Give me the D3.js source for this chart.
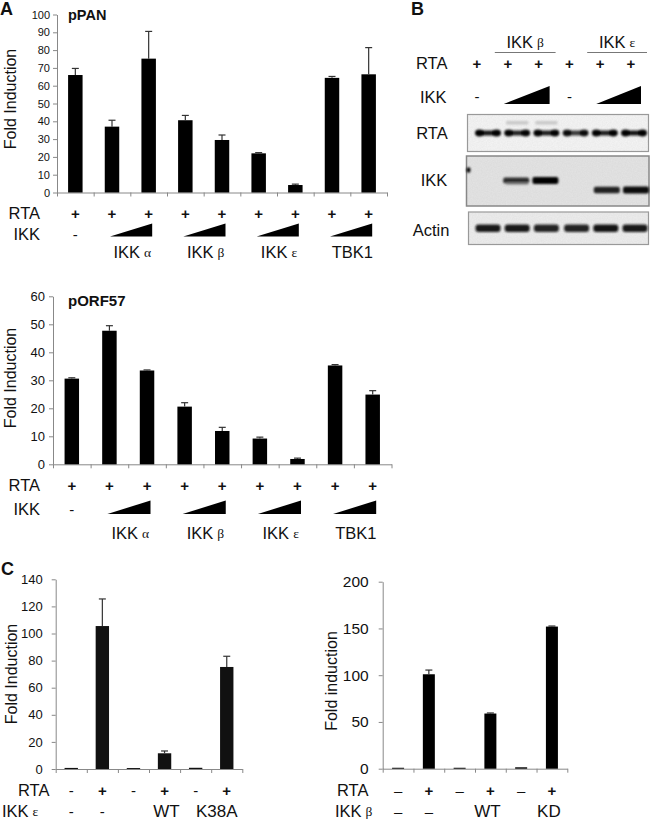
<!DOCTYPE html>
<html><head><meta charset="utf-8">
<script src="https://cdn.jsdelivr.net/npm/d3@7"></script>
<style>body{margin:0;background:#fff}svg{display:block}</style>
</head><body><svg id="c" width="650" height="819"></svg>
<script>
// ---------------- DATA ----------------
const catsA = ["RTA","RTA+IKKa lo","RTA+IKKa hi","RTA+IKKb lo","RTA+IKKb hi","RTA+IKKe lo","RTA+IKKe hi","RTA+TBK1 lo","RTA+TBK1 hi"];
const rtaSignsA = ["+","+","+","+","+","+","+","+","+"];
const ikkSignsA = ["-","","","","","","","",""];
const groupsA = [
  {name:"IKK", greek:"α", first:1, last:2},
  {name:"IKK", greek:"β", first:3, last:4},
  {name:"IKK", greek:"ε", first:5, last:6},
  {name:"TBK1", greek:"", first:7, last:8}
];
const panValues = [66, 37, 75.2, 40.6, 29.5, 22, 4.2, 64.4, 66.4];
const panErrors = [3.7, 3.6, 15.3, 2.7, 2.8, 0.4, 0.5, 0.8, 15];
const panTicks = [0,10,20,30,40,50,60,70,80,90,100];
const orfValues = [30.6, 47.7, 33.5, 20.6, 11.9, 9.2, 1.9, 35.3, 24.9];
const orfErrors = [0.3, 1.8, 0.2, 1.4, 1.3, 0.5, 0.3, 0.3, 1.4];
const orfTicks = [0,10,20,30,40,50,60];

const catsC = ["none","RTA","IKK","RTA+IKK","IKK mut","RTA+IKK mut"];
const rtaSignsCL = ["-","+","-","+","-","+"];
const ikkSignsCL = ["-","-","","WT","","K38A"];
const cLeftValues = [0.8, 105.5, 0.7, 11.6, 0.9, 75.3];
const cLeftErrors = [0, 20, 0, 1.7, 0, 7.9];
const cLeftTicks = [0,20,40,60,80,100,120,140];
const rtaSignsCR = ["\u2013","+","\u2013","+","\u2013","+"];
const ikkSignsCR = ["\u2013","\u2013","","WT","","KD"];
const cRightValues = [1, 101, 1, 59, 1.5, 152];
const cRightErrors = [0, 4.5, 0, 0.6, 0, 0.6];
const cRightTicks = [0,50,100,150,200];

const blotLanes = ["1","2","3","4","5","6"];
const rtaSignsB = ["+","+","+","+","+","+"];
const ikkSignsB = ["-","","","-","",""];
const groupsB = [{name:"IKK", greek:"β", first:1, last:2},{name:"IKK", greek:"ε", first:4, last:5}];
const rtaBand = [0.95, 0.9, 0.92, 0.8, 0.92, 0.97];
const ikkBandKind = ["", "β", "β", "", "ε", "ε"];
const ikkBand = [0, 0.8, 1, 0, 0.85, 0.95];
const actinBand = [0.95, 0.95, 0.9, 0.9, 0.97, 0.95];

// ---------------- DRAW ----------------
const SANS = "'Liberation Sans', Arial, Helvetica, sans-serif";
const SERIF = "'Liberation Serif', 'Times New Roman', serif";
const svg = d3.select("#c");
svg.append("rect").attr("width",650).attr("height",819).attr("fill","#fff");
const defs = svg.append("defs");
defs.append("filter").attr("id","blur").attr("x","-20%").attr("y","-50%").attr("width","140%").attr("height","200%")
  .append("feGaussianBlur").attr("stdDeviation",0.8);
const nf = defs.append("filter").attr("id","noise").attr("x",0).attr("y",0).attr("width","100%").attr("height","100%");
nf.append("feTurbulence").attr("type","fractalNoise").attr("baseFrequency",0.8).attr("numOctaves",2).attr("seed",3);
nf.append("feColorMatrix").attr("type","matrix").attr("values","0 0 0 0 0.4  0 0 0 0 0.4  0 0 0 0 0.4  0 0 0 0.35 -0.05");

function txt(x, y, s, size, opts={}) {
  return svg.append("text").attr("x",x).attr("y",y).text(s)
    .attr("font-family", opts.family || SANS).attr("font-size", size)
    .attr("font-weight", opts.bold ? "bold" : "normal")
    .attr("text-anchor", opts.anchor || "start")
    .attr("dominant-baseline", opts.baseline || "central")
    .attr("fill", opts.fill || "#111");
}
function sign(x, y, s, size) {
  return txt(x, y, s, size, {anchor:"middle", bold: s==="+"});
}
function greekLabel(x, y, name, greek, size, gsize, anchor="middle") {
  const t = svg.append("text").attr("x",x).attr("y",y).attr("text-anchor",anchor)
    .attr("dominant-baseline","central").attr("fill","#111");
  t.append("tspan").attr("font-family",SANS).attr("font-size",size).text(name);
  if (greek) t.append("tspan").attr("font-family",SERIF).attr("font-size",gsize).attr("dx",4).text(greek);
  return t;
}

function barPanel(o) {
  const n = o.values.length;
  const g = svg.append("g");
  const x = d3.scaleBand().domain(d3.range(n)).range([o.x0, o.x1]).paddingInner(o.pad).paddingOuter(o.pad/2);
  const xb = d3.scaleLinear().domain([0, n]).range([o.x0, o.x1]);
  const y = d3.scaleLinear().domain([0, o.max]).range([o.yb, o.yt]);
  const ya = g.append("g").attr("transform",`translate(${o.x0},0)`)
    .call(d3.axisLeft(y).tickValues(o.ticks).tickSize(4).tickSizeOuter(0).tickPadding(o.tickPad));
  ya.select(".domain").attr("stroke","#888");
  ya.selectAll(".tick line").attr("stroke","#888");
  ya.selectAll(".tick text").attr("font-family",SANS).attr("font-size",o.tickFont).attr("fill","#111");
  const xa = g.append("g").attr("transform",`translate(0,${o.yb})`)
    .call(d3.axisBottom(xb).tickValues(d3.range(n+1)).tickFormat("").tickSize(4).tickSizeOuter(0));
  xa.select(".domain").attr("stroke","#888");
  xa.selectAll(".tick line").attr("stroke","#888");
  g.selectAll("rect.bar").data(o.values).join("rect").attr("class","bar")
    .attr("x",(d,i)=>x(i)).attr("width",x.bandwidth())
    .attr("y",d=>y(d)).attr("height",d=>o.yb - y(d)).attr("fill",o.color||"#000");
  const eb = g.selectAll("g.err").data(o.values.map((v,i)=>({v, e:o.errors[i], i})).filter(d=>d.e>0)).join("g");
  eb.append("line").attr("x1",d=>x(d.i)+x.bandwidth()/2).attr("x2",d=>x(d.i)+x.bandwidth()/2)
    .attr("y1",d=>y(d.v)).attr("y2",d=>y(d.v+d.e)).attr("stroke","#333").attr("stroke-width",1.2);
  eb.append("line").attr("x1",d=>x(d.i)+x.bandwidth()/2-3.5).attr("x2",d=>x(d.i)+x.bandwidth()/2+3.5)
    .attr("y1",d=>y(d.v+d.e)).attr("y2",d=>y(d.v+d.e)).attr("stroke","#333").attr("stroke-width",1.2);
  txt(0,0,o.title,16,{anchor:"middle"}).attr("transform",`translate(${o.titleX},${o.titleY}) rotate(-90)`);
  const cx = i => x(i) + x.bandwidth()/2;
  return {x, y, cx};
}

function wedge(x1, x2, yTop, yBot) {
  svg.append("path").attr("d",`M${x1},${yBot}L${x2},${yBot}L${x2},${yTop}Z`).attr("fill","#000");
}

// ---------- Panel A: pPAN ----------
txt(0,15,"A",18,{bold:true,baseline:"auto"});
const pA = barPanel({values:panValues, errors:panErrors, ticks:panTicks, max:100,
  x0:57, x1:387, yb:192.5, yt:14.5, pad:0.605, tickPad:3, tickFont:11,
  title:"Fold Induction", titleX:10, titleY:99});
txt(68,20,"pPAN",14.5,{bold:true,baseline:"auto"});
function rowsA(p, yR, yI, yW, yL) {
  txt(40,yR,"RTA",16.5,{anchor:"end"});
  txt(40,yI,"IKK",16.5,{anchor:"end"});
  rtaSignsA.forEach((s,i)=>sign(p.cx(i),yR,s,15));
  ikkSignsA.forEach((s,i)=>{ if(s) sign(p.cx(i),yI,s,15); });
  groupsA.forEach(gr=>{
    wedge(p.cx(gr.first)-2, p.cx(gr.last)+3.5, yW[0], yW[1]);
    greekLabel((p.cx(gr.first)+p.cx(gr.last))/2+2, yL, gr.name, gr.greek, 16.5, 13.5);
  });
}
rowsA(pA, 213, 234, [223.5,236.5], 252);

// ---------- Panel A: pORF57 ----------
const pB = barPanel({values:orfValues, errors:orfErrors, ticks:orfTicks, max:60,
  x0:53, x1:391.5, yb:464.3, yt:296.3, pad:0.615, tickPad:4, tickFont:13,
  title:"Fold Induction", titleX:10, titleY:378});
txt(68,306,"pORF57",15,{bold:true,baseline:"auto"});
rowsA(pB, 485, 509, [500.5,514], 533);

// ---------- Panel C left ----------
txt(1,575,"C",18,{bold:true,baseline:"auto"});
const pCL = barPanel({values:cLeftValues, errors:cLeftErrors, ticks:cLeftTicks, max:140,
  x0:55.7, x1:242.3, yb:769, yt:579.3, pad:0.57, tickPad:9, tickFont:13, color:"#111",
  title:"Fold Induction", titleX:11, titleY:674});
txt(18,790,"RTA",16.5);
greekLabel(2,811,"IKK","ε",16.5,13.5,"start");
rtaSignsCL.forEach((s,i)=>sign(pCL.cx(i),790,s,15));
ikkSignsCL.forEach((s,i)=>{ if(s) txt(pCL.cx(i)+(s.length>3?-10:(s.length>1?2:0)),811,s,s.length>1?17:15,{anchor:"middle"}); });

// ---------- Panel C right ----------
const pCR = barPanel({values:cRightValues, errors:cRightErrors, ticks:cRightTicks, max:200,
  x0:382.7, x1:567.3, yb:768.7, yt:581.7, pad:0.61, tickPad:10, tickFont:15.5, color:"#000",
  title:"Fold induction", titleX:331, titleY:681});
txt(337,790,"RTA",16.5);
greekLabel(335,811,"IKK","β",16.5,13.5,"start");
rtaSignsCR.forEach((s,i)=>sign(pCR.cx(i),790,s,15));
ikkSignsCR.forEach((s,i)=>{ if(s) txt(pCR.cx(i)+(s.length>1?-3:0),811,s,s.length>1?17:15,{anchor:"middle"}); });

// ---------- Panel B: western blot ----------
txt(411,15,"B",18,{bold:true,baseline:"auto"});
const hx = d3.scalePoint().domain(blotLanes).range([477,631]);
const hxi = i => hx(blotLanes[i]);
txt(416,63,"RTA",16.5);
txt(420,97,"IKK",16.5);
rtaSignsB.forEach((s,i)=>sign(hxi(i),63,s,15));
ikkSignsB.forEach((s,i)=>{ if(s) sign(hxi(i),96,s,15); });
groupsB.forEach(gr=>{
  const w1 = hxi(gr.first)-4, w2 = Math.min(hxi(gr.last)+11, 641);
  wedge(w1, w2, 86, 104);
  svg.append("line").attr("x1",w1-9).attr("x2",w2+6).attr("y1",52.5).attr("y2",52.5).attr("stroke","#777").attr("stroke-width",1);
  greekLabel((w1-9+w2+6)/2, 42, gr.name, gr.greek, 16.5, 13.5);
});
txt(432,133,"RTA",16.5,{anchor:"middle"});
txt(434,180,"IKK",16.5,{anchor:"middle"});
txt(431,230,"Actin",16.5,{anchor:"middle"});

const lx = d3.scalePoint().domain(blotLanes).range([488,634]);
function blotBox(x, y, w, h, fill, stroke, sw) {
  svg.append("rect").attr("x",x).attr("y",y).attr("width",w).attr("height",h).attr("fill",fill);
  svg.append("rect").attr("x",x).attr("y",y).attr("width",w).attr("height",h).attr("filter","url(#noise)").attr("opacity",0.5);
  svg.append("rect").attr("x",x).attr("y",y).attr("width",w).attr("height",h).attr("fill","none").attr("stroke",stroke).attr("stroke-width",sw);
}
blotBox(467.5,114.5,181,37,"#f4f4f4","#999",1.2);
const gR = svg.append("g").attr("filter","url(#blur)");
[1,2].forEach(i=>gR.append("rect").attr("x",lx(blotLanes[i])-11).attr("y",121).attr("width",22).attr("height",3.5).attr("fill","#c8c8c8"));
rtaBand.forEach((v,i)=>{
  const c = lx(blotLanes[i]);
  gR.append("rect").attr("x",c-12.5).attr("y",130.5).attr("width",25).attr("height",5).attr("rx",2.5).attr("fill","#111").attr("opacity",v);
  gR.append("ellipse").attr("cx",c-8.5).attr("cy",133).attr("rx",4.5).attr("ry",3.4).attr("fill","#000").attr("opacity",v);
  gR.append("ellipse").attr("cx",c+8.5).attr("cy",133).attr("rx",4.5).attr("ry",3.4).attr("fill","#000").attr("opacity",v);
});
blotBox(466.5,156,182.5,50,"#e3e3e3","#888",1.5);
const gI = svg.append("g").attr("filter","url(#blur)");
gI.append("ellipse").attr("cx",468.5).attr("cy",170).attr("rx",2).attr("ry",2.8).attr("fill","#000");
ikkBand.forEach((v,i)=>{
  if (!v) return;
  const c = lx(blotLanes[i]) + (ikkBandKind[i]==="β" ? -1 : 2);
  const yc = ikkBandKind[i]==="β" ? 180.5 : 190;
  const h = 3 + 4*v;
  gI.append("rect").attr("x",c-13).attr("y",yc-h/2).attr("width",26).attr("height",h).attr("rx",2).attr("fill","#000").attr("opacity",v);
});
gI.append("rect").attr("x",lx("2")-11).attr("y",183).attr("width",22).attr("height",1.5).attr("fill","#777");
blotBox(468.5,212,180,32.5,"#ececec","#999",1.2);
const gA = svg.append("g").attr("filter","url(#blur)");
actinBand.forEach((v,i)=>{
  const c = lx(blotLanes[i]) + (i>=3?1:0);
  gA.append("rect").attr("x",c-12.5).attr("y",224.5).attr("width",25).attr("height",7.5).attr("rx",3).attr("fill","#111").attr("opacity",v);
});
</script></body></html>
